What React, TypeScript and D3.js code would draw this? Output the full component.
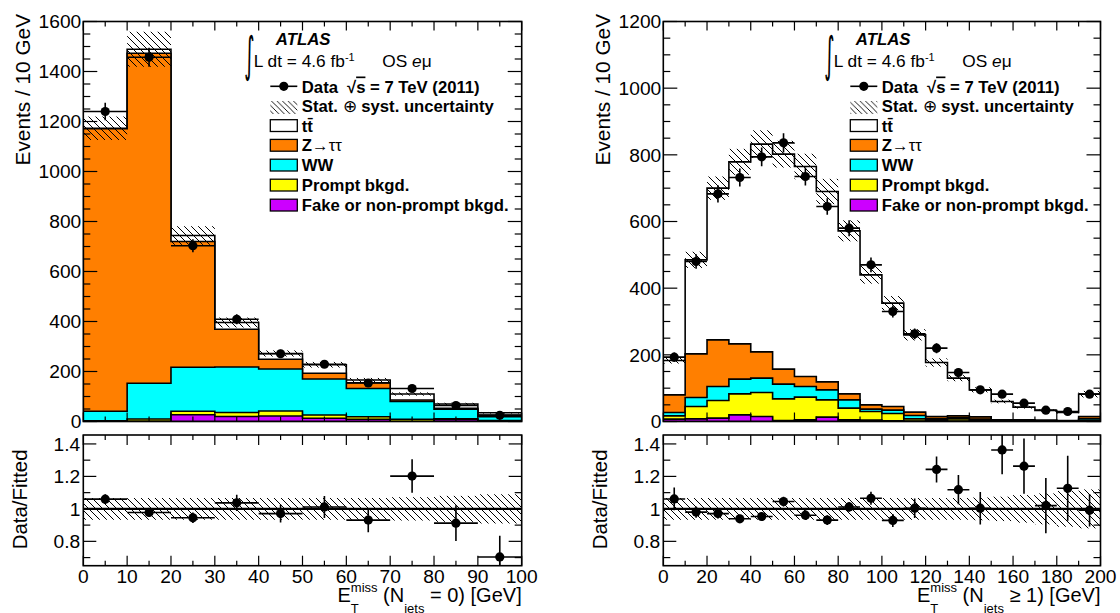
import React from 'react';
import * as d3 from 'd3';

// ---------------- data ----------------
// Left panel: N_jets = 0, bins of 10 GeV (lower edges)
const leftBinLow = [0, 10, 20, 30, 40, 50, 60, 70, 80, 90];
const leftFake = [1, 1, 27, 20, 22, 13, 9, 0, 8, 2];
const leftPrompt = [2, 9, 14, 16, 20, 13, 10, 9, 3, 2];
const leftWW = [38, 143, 176, 182, 168, 144, 113, 71, 38, 15];
const leftZ = [1130, 1320, 503, 151, 39, 23, 23, 6, 4, 7];
const leftTT = [2, 16, 24, 27, 23, 34, 11, 24, 17, 9];
const leftData = [1240, 1457, 703, 409, 271, 229, 154, 132, 64, 25];
const leftDataErr = [35, 38, 26, 20, 16, 15, 12, 11, 8, 5];
const leftUnc = [0.04, 0.047, 0.05, 0.05, 0.045, 0.05, 0.05, 0.06, 0.07, 0.09];
const leftRatio = [1.06, 0.978, 0.945, 1.037, 0.971, 1.012, 0.931, 1.202, 0.912, 0.704];
const leftRatioErr = [0.03, 0.026, 0.032, 0.05, 0.055, 0.068, 0.075, 0.103, 0.11, 0.13];
const leftRatioBand = [0.067, 0.067, 0.067, 0.067, 0.067, 0.067, 0.067, 0.072, 0.08, 0.09];

// Right panel: N_jets >= 1
const rightBinLow = [0, 10, 20, 30, 40, 50, 60, 70, 80, 90, 100, 110, 120, 130, 140, 150, 160, 170, 180, 190];
const rightFake = [7, 8, 10, 20, 15, 3, 5, 13, 5, 4, 2, 1, 1, 1, 1, 0, 0, 0, 0, 1];
const rightPrompt = [10, 37, 53, 63, 72, 65, 68, 52, 35, 26, 22, 7, 4, 7, 4, 2, 2, 1, 1, 3];
const rightWW = [10, 27, 42, 44, 43, 44, 32, 30, 25, 7, 10, 10, 4, 3, 2, 1, 1, 1, 1, 5];
const rightZ = [53, 131, 140, 106, 79, 45, 30, 24, 18, 13, 11, 10, 6, 6, 7, 2, 2, 2, 1, 6];
const rightTT = [103, 282, 455, 546, 623, 645, 630, 571, 489, 390, 310, 232, 162, 113, 81, 55, 38, 29, 24, 67];
const rightData = [193, 480, 683, 732, 794, 836, 735, 645, 580, 470, 330, 263, 220, 147, 95, 82, 55, 34, 30, 82];
const rightDataErr = [14, 22, 26, 27, 28, 29, 27, 25, 24, 22, 18, 16, 15, 12, 10, 9, 7, 6, 5.5, 9];
const rightUnc = [0.05, 0.05, 0.05, 0.05, 0.05, 0.05, 0.05, 0.055, 0.055, 0.06, 0.06, 0.065, 0.07, 0.07, 0.08, 0.09, 0.1, 0.1, 0.11, 0.12];
const rightRatio = [1.061, 0.98, 0.971, 0.939, 0.953, 1.045, 0.961, 0.931, 1.012, 1.065, 0.929, 1.004, 1.243, 1.118, 1.004, 1.363, 1.263, 1.02, 1.127, 0.992];
const rightRatioErr = [0.07, 0.035, 0.03, 0.025, 0.025, 0.03, 0.03, 0.03, 0.03, 0.04, 0.04, 0.06, 0.08, 0.09, 0.1, 0.15, 0.17, 0.17, 0.2, 0.1];
const rightRatioBand = [0.067, 0.067, 0.067, 0.067, 0.067, 0.067, 0.067, 0.067, 0.067, 0.067, 0.067, 0.067, 0.067, 0.067, 0.07, 0.075, 0.085, 0.095, 0.11, 0.12];

// axis tick labels
const leftYTicks = [0, 200, 400, 600, 800, 1000, 1200, 1400, 1600];
const rightYTicks = [0, 200, 400, 600, 800, 1000, 1200];
const ratioYTicks = [0.8, 1, 1.2, 1.4];
const leftXTicks = [0, 10, 20, 30, 40, 50, 60, 70, 80, 90, 100];
const rightXTicks = [0, 20, 40, 60, 80, 100, 120, 140, 160, 180, 200];

const legendLabels = ['tt\u0304', 'Z', 'WW', 'Prompt bkgd.', 'Fake or non-prompt bkgd.'];

// ---------------- layout / style ----------------
const MAIN_TOP = 21.5;
const MAIN_BOT = 421.5;
const RAT_TOP = 435;
const RAT_BOT = 565.7;
const FONT = 'Liberation Sans, Arial, Helvetica, sans-serif';
const C_TT = '#ffffff';
const C_Z = '#ff7f00';
const C_WW = '#00ffff';
const C_PROMPT = '#ffff00';
const C_FAKE = '#cc00ff';
const LW = 1.6;

type PanelProps = {
  id: string;
  x0: number;
  x1: number;
  xMax: number;
  bw: number;
  bins: number[];
  layers: { values: number[]; color: string }[];
  data: number[];
  dataErr: number[];
  unc: number[];
  ratio: number[];
  ratioErr: number[];
  ratioBand: number[];
  yMax: number;
  yTicks: number[];
  xTicks: number[];
  xMinorStep: number;
  njet: string;
};

function Panel(p: PanelProps) {
  const x = d3.scaleLinear().domain([0, p.xMax]).range([p.x0, p.x1]);
  const y = d3.scaleLinear().domain([0, p.yMax]).range([MAIN_BOT, MAIN_TOP]);
  const yr = d3.scaleLinear().domain([0.65, 1.455]).range([RAT_BOT, RAT_TOP]);

  const cum: { color: string; tops: number[] }[] = [];
  let acc = p.bins.map(() => 0);
  p.layers.forEach((l) => {
    acc = acc.map((a, i) => a + l.values[i]);
    cum.push({ color: l.color, tops: acc.slice() });
  });
  const total = acc;

  const stepArea = (tops: number[]) => {
    let d = `M${x(p.bins[0])},${y(0)}`;
    p.bins.forEach((b, i) => {
      d += `L${x(b)},${y(tops[i])}L${x(b + p.bw)},${y(tops[i])}`;
    });
    d += `L${x(p.bins[p.bins.length - 1] + p.bw)},${y(0)}Z`;
    return d;
  };

  const yMinor = d3.range(0, p.yMax + 1, 50).filter((v) => !p.yTicks.includes(v));
  const xMinor = d3.range(0, p.xMax + 0.001, p.xMinorStep).filter((v) => !p.xTicks.includes(v));
  const rMinor = [0.7, 0.9, 1.1, 1.3];

  const clipMain = `clip-main-${p.id}`;
  const clipRat = `clip-rat-${p.id}`;

  const ticks: JSX.Element[] = [];
  p.yTicks.forEach((v, i) => {
    ticks.push(<line key={`my${i}`} x1={p.x0} x2={p.x0 + 14} y1={y(v)} y2={y(v)} />);
    ticks.push(<line key={`myr${i}`} x1={p.x1} x2={p.x1 - 14} y1={y(v)} y2={y(v)} />);
  });
  yMinor.forEach((v, i) => {
    ticks.push(<line key={`mym${i}`} x1={p.x0} x2={p.x0 + 7} y1={y(v)} y2={y(v)} />);
    ticks.push(<line key={`mymr${i}`} x1={p.x1} x2={p.x1 - 7} y1={y(v)} y2={y(v)} />);
  });
  p.xTicks.forEach((v, i) => {
    ticks.push(<line key={`mx${i}`} x1={x(v)} x2={x(v)} y1={MAIN_BOT} y2={MAIN_BOT - 9} />);
    ticks.push(<line key={`mxt${i}`} x1={x(v)} x2={x(v)} y1={MAIN_TOP} y2={MAIN_TOP + 9} />);
    ticks.push(<line key={`rx${i}`} x1={x(v)} x2={x(v)} y1={RAT_BOT} y2={RAT_BOT - 10} />);
    ticks.push(<line key={`rxt${i}`} x1={x(v)} x2={x(v)} y1={RAT_TOP} y2={RAT_TOP + 10} />);
  });
  xMinor.forEach((v, i) => {
    ticks.push(<line key={`mxm${i}`} x1={x(v)} x2={x(v)} y1={MAIN_BOT} y2={MAIN_BOT - 5} />);
    ticks.push(<line key={`mxmt${i}`} x1={x(v)} x2={x(v)} y1={MAIN_TOP} y2={MAIN_TOP + 5} />);
    ticks.push(<line key={`rxm${i}`} x1={x(v)} x2={x(v)} y1={RAT_BOT} y2={RAT_BOT - 5} />);
    ticks.push(<line key={`rxmt${i}`} x1={x(v)} x2={x(v)} y1={RAT_TOP} y2={RAT_TOP + 5} />);
  });
  ratioYTicks.forEach((v, i) => {
    ticks.push(<line key={`ry${i}`} x1={p.x0} x2={p.x0 + 13} y1={yr(v)} y2={yr(v)} />);
    ticks.push(<line key={`ryr${i}`} x1={p.x1} x2={p.x1 - 13} y1={yr(v)} y2={yr(v)} />);
  });
  rMinor.forEach((v, i) => {
    ticks.push(<line key={`rym${i}`} x1={p.x0} x2={p.x0 + 7} y1={yr(v)} y2={yr(v)} />);
    ticks.push(<line key={`rymr${i}`} x1={p.x1} x2={p.x1 - 7} y1={yr(v)} y2={yr(v)} />);
  });

  const lx = p.x0 + 187; // legend box left
  const tx = p.x0 + 218.5; // legend text left
  const boxW = 27;
  const legendRows = [131.5, 151.2, 171, 191, 211];
  const legendColors = [C_TT, C_Z, C_WW, C_PROMPT, C_FAKE];

  return (
    <g>
      <defs>
        <clipPath id={clipMain}>
          <rect x={p.x0} y={MAIN_TOP} width={p.x1 - p.x0} height={MAIN_BOT - MAIN_TOP} />
        </clipPath>
        <clipPath id={clipRat}>
          <rect x={p.x0} y={RAT_TOP} width={p.x1 - p.x0} height={RAT_BOT - RAT_TOP} />
        </clipPath>
      </defs>

      {/* stacked histograms */}
      <g clipPath={`url(#${clipMain})`}>
        {cum
          .slice()
          .reverse()
          .map((c, i) => (
            <path key={i} d={stepArea(c.tops)} fill={c.color} stroke="#000" strokeWidth={LW} strokeLinejoin="miter" />
          ))}
        {p.bins.map((b, i) => (
          <rect
            key={`u${i}`}
            x={x(b)}
            width={x(b + p.bw) - x(b)}
            y={y(total[i] * (1 + p.unc[i]))}
            height={y(total[i] * (1 - p.unc[i])) - y(total[i] * (1 + p.unc[i]))}
            fill="url(#hatch)"
          />
        ))}
        {p.bins.map((b, i) => (
          <g key={`d${i}`} stroke="#000" strokeWidth={LW}>
            <line x1={x(b)} x2={x(b + p.bw)} y1={y(p.data[i])} y2={y(p.data[i])} />
            <line x1={x(b + p.bw / 2)} x2={x(b + p.bw / 2)} y1={y(p.data[i] - p.dataErr[i])} y2={y(p.data[i] + p.dataErr[i])} />
            <circle cx={x(b + p.bw / 2)} cy={y(p.data[i])} r={4.6} fill="#000" stroke="none" />
          </g>
        ))}
      </g>

      {/* ratio */}
      <g clipPath={`url(#${clipRat})`}>
        {p.bins.map((b, i) => (
          <rect
            key={`rb${i}`}
            x={x(b)}
            width={x(b + p.bw) - x(b)}
            y={yr(1 + p.ratioBand[i])}
            height={yr(1 - p.ratioBand[i]) - yr(1 + p.ratioBand[i])}
            fill="url(#hatch)"
          />
        ))}
        <line x1={p.x0} x2={p.x1} y1={yr(1)} y2={yr(1)} stroke="#000" strokeWidth={2.2} />
        {p.bins.map((b, i) => (
          <g key={`r${i}`} stroke="#000" strokeWidth={LW}>
            <line x1={x(b)} x2={x(b + p.bw)} y1={yr(p.ratio[i])} y2={yr(p.ratio[i])} />
            <line x1={x(b + p.bw / 2)} x2={x(b + p.bw / 2)} y1={yr(p.ratio[i] - p.ratioErr[i])} y2={yr(p.ratio[i] + p.ratioErr[i])} />
            <circle cx={x(b + p.bw / 2)} cy={yr(p.ratio[i])} r={4.6} fill="#000" stroke="none" />
          </g>
        ))}
      </g>

      <g stroke="#000" strokeWidth={1.2}>{ticks}</g>

      <rect x={p.x0} y={MAIN_TOP} width={p.x1 - p.x0} height={MAIN_BOT - MAIN_TOP} fill="none" stroke="#000" strokeWidth={1.6} />
      <rect x={p.x0} y={RAT_TOP} width={p.x1 - p.x0} height={RAT_BOT - RAT_TOP} fill="none" stroke="#000" strokeWidth={1.6} />

      <g fontSize={19.2} fill="#000">
        {p.yTicks.map((v, i) => (
          <text key={`yl${i}`} x={p.x0 - 2} y={y(v) + 6.8} textAnchor="end">
            {v}
          </text>
        ))}
        {ratioYTicks.map((v, i) => (
          <text key={`ryl${i}`} x={p.x0 - 3} y={yr(v) + 6.8} textAnchor="end">
            {v}
          </text>
        ))}
        {p.xTicks.map((v, i) => (
          <text key={`xl${i}`} x={x(v)} y={583.3} textAnchor="middle">
            {v}
          </text>
        ))}
      </g>

      <text transform={`translate(${p.x0 - 53.3},14) rotate(-90)`} textAnchor="end" fontSize={20.8}>
        Events / 10 GeV
      </text>
      <text transform={`translate(${p.x0 - 56.5},449.5) rotate(-90)`} textAnchor="end" fontSize={20.4}>
        Data/Fitted
      </text>
      <text x={p.x1} y={601.7} textAnchor="end" fontSize={20}>
        E<tspan fontSize={13} dy={10.8}>T</tspan>
        <tspan fontSize={13} dx={-7.9} dy={-20.5}>miss</tspan>
        <tspan dy={9.7}>{' (N'}</tspan>
        <tspan fontSize={13} dy={10.8}>jets</tspan>
        <tspan dy={-10.8}>{` ${p.njet}) [GeV]`}</tspan>
      </text>

      {/* ATLAS label */}
      <text transform={`translate(${p.x0 + 161},71) scale(0.5,1.2)`} fontSize={40} fontFamily="DejaVu Sans">
        ∫
      </text>
      <text x={p.x0 + 192.5} y={45} fontSize={16.8} fontWeight="bold" fontStyle="italic">
        ATLAS
      </text>
      <text x={p.x0 + 170.5} y={66.7} fontSize={17.3}>
        L dt = 4.6 fb<tspan fontSize={11} dy={-6}>-1</tspan>
      </text>
      <text x={p.x0 + 299} y={66.7} fontSize={17.3}>
        OS <tspan fontStyle="italic">e</tspan>μ
      </text>

      {/* legend */}
      <line x1={lx} x2={lx + boxW} y1={86.3} y2={86.3} stroke="#000" strokeWidth={LW} />
      <circle cx={lx + boxW / 2} cy={86.3} r={4.6} fill="#000" />
      <text x={tx} y={92.5} fontSize={16.7} fontWeight="bold">
        Data<tspan dx={9}>√</tspan>
        <tspan textDecoration="overline">s</tspan> = 7 TeV (2011)
      </text>
      <rect x={lx} y={101} width={boxW} height={13} fill="url(#hatchLeg)" />
      <text x={tx} y={111.5} fontSize={16.7} fontWeight="bold">
        Stat. <tspan fontWeight="normal">⊕</tspan> syst. uncertainty
      </text>
      {legendRows.map((yy, i) => (
        <g key={`lg${i}`}>
          <rect x={lx} y={yy - 11.8} width={boxW} height={11.8} fill={legendColors[i]} stroke="#000" strokeWidth={1.3} />
          <text x={tx} y={yy} fontSize={16.7} fontWeight="bold">
            {i === 1 ? (
              <>
                Z<tspan fontWeight="normal">→ττ</tspan>
              </>
            ) : (
              legendLabels[i]
            )}
          </text>
        </g>
      ))}
    </g>
  );
}

export default function App() {
  const leftLayers = [
    { values: leftFake, color: C_FAKE },
    { values: leftPrompt, color: C_PROMPT },
    { values: leftWW, color: C_WW },
    { values: leftZ, color: C_Z },
    { values: leftTT, color: C_TT },
  ];
  const rightLayers = [
    { values: rightFake, color: C_FAKE },
    { values: rightPrompt, color: C_PROMPT },
    { values: rightWW, color: C_WW },
    { values: rightZ, color: C_Z },
    { values: rightTT, color: C_TT },
  ];
  return (
    <div style={{ position: 'absolute', left: 0, top: 0, width: 1120, height: 613, background: '#fff' }}>
      <svg width={1120} height={613} fontFamily={FONT} style={{ display: 'block' }}>
        <defs>
          <pattern id="hatch" patternUnits="userSpaceOnUse" width={7} height={7}>
            <path d="M-1,-1 L8,8 M-1,6 L1,8 M6,-1 L8,1" stroke="#000" strokeWidth={1} />
          </pattern>
          <pattern id="hatchLeg" patternUnits="userSpaceOnUse" width={5.5} height={5.5}>
            <path d="M-1,-1 L6.5,6.5 M-1,4.5 L1,6.5 M4.5,-1 L6.5,1" stroke="#000" strokeWidth={0.9} />
          </pattern>
        </defs>
        <rect x={0} y={0} width={1120} height={613} fill="#fff" />
        <Panel
          id="l"
          x0={83.3}
          x1={521.7}
          xMax={100}
          bw={10}
          bins={leftBinLow}
          layers={leftLayers}
          data={leftData}
          dataErr={leftDataErr}
          unc={leftUnc}
          ratio={leftRatio}
          ratioErr={leftRatioErr}
          ratioBand={leftRatioBand}
          yMax={1600}
          yTicks={leftYTicks}
          xTicks={leftXTicks}
          xMinorStep={5}
          njet="= 0"
        />
        <Panel
          id="r"
          x0={663.3}
          x1={1100.5}
          xMax={200}
          bw={10}
          bins={rightBinLow}
          layers={rightLayers}
          data={rightData}
          dataErr={rightDataErr}
          unc={rightUnc}
          ratio={rightRatio}
          ratioErr={rightRatioErr}
          ratioBand={rightRatioBand}
          yMax={1200}
          yTicks={rightYTicks}
          xTicks={rightXTicks}
          xMinorStep={10}
          njet="≥ 1"
        />
      </svg>
    </div>
  );
}
